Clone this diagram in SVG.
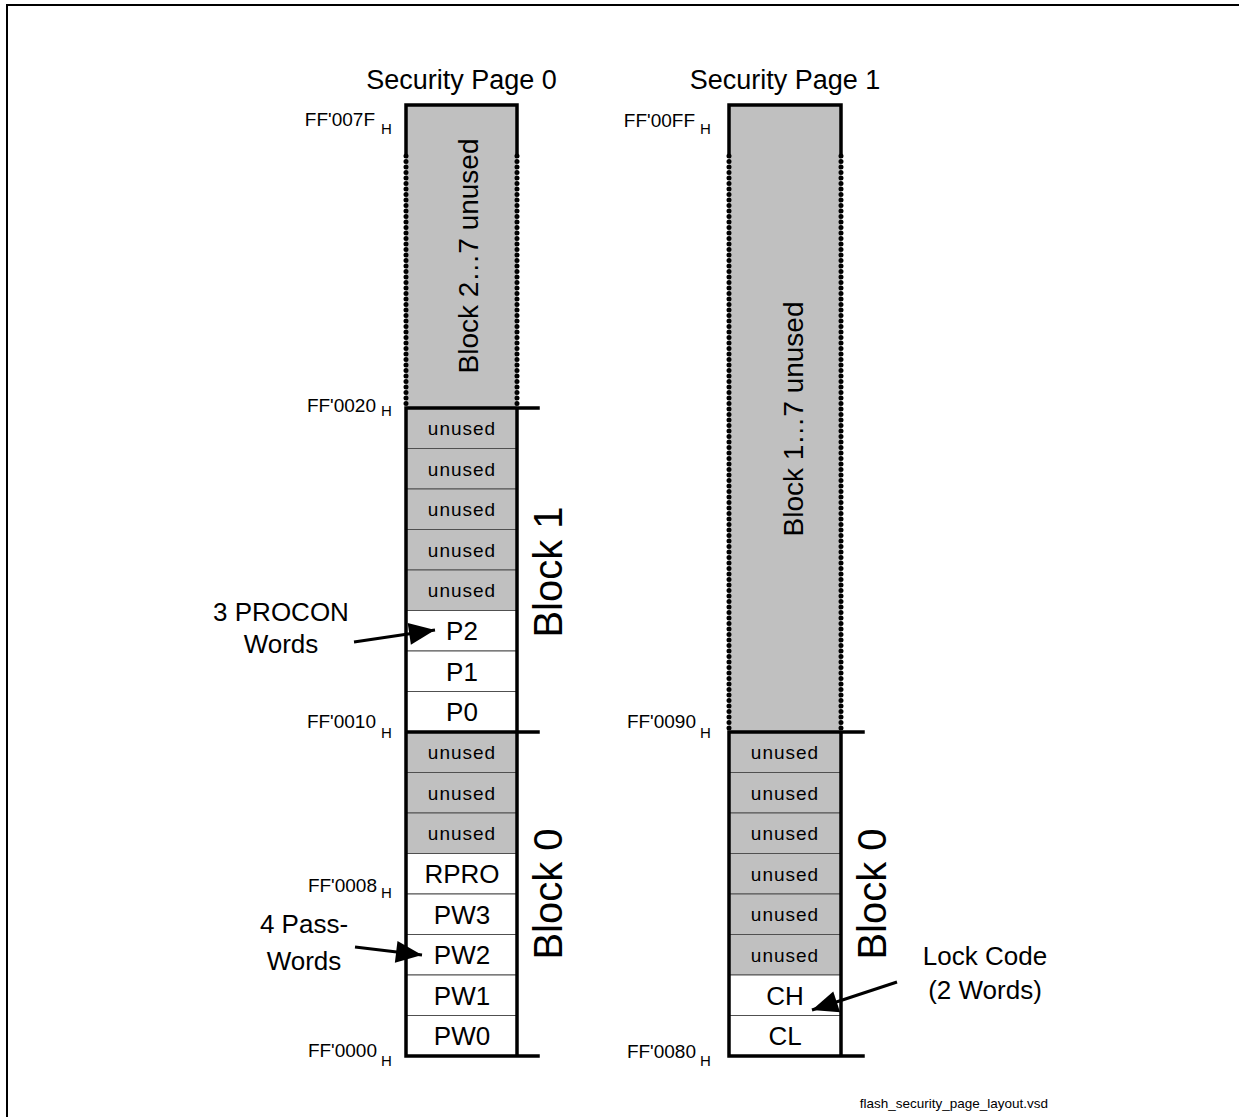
<svg xmlns="http://www.w3.org/2000/svg" width="1239" height="1117" viewBox="0 0 1239 1117">
<style>
.frame{fill:none;stroke:#000;stroke-width:2}
.bd{stroke:#000;stroke-width:3.5;fill:none;stroke-linecap:square}
.dot{stroke:#000;stroke-width:5;stroke-dasharray:0 5.5;stroke-linecap:round;fill:none}
.g{fill:#c0c0c0;stroke:#505050;stroke-width:1}
.w{fill:#fff;stroke:#505050;stroke-width:1}
.area{fill:#c0c0c0}
.t{font-family:"Liberation Sans",Arial,sans-serif;fill:#000}
.u{font-size:19px;text-anchor:middle;letter-spacing:1px}
.c{font-size:26px;text-anchor:middle}
.addr{font-size:19px;text-anchor:end}
.sub{font-size:15px}
.blk{font-size:40px;text-anchor:middle}
.big{font-size:28px;text-anchor:middle}
.title{font-size:27px;text-anchor:middle}
.call{font-size:26px;text-anchor:middle}
.arr{stroke:#000;stroke-width:3;fill:none}
</style>
<defs>
<marker id="ah" markerUnits="userSpaceOnUse" markerWidth="28" markerHeight="22" refX="26" refY="11" orient="auto" overflow="visible">
<path d="M0,0 L26,11 L0,22 z" fill="#000"/>
</marker>
</defs>
<rect class="frame" x="7" y="5" width="1260" height="1140"/>

<g id="title0"><text class="t title" x="461.5" y="89">Security Page 0</text></g>
<g id="title1"><text class="t title" x="785" y="89">Security Page 1</text></g>

<g id="page0">
<rect class="area" x="406" y="105" width="111" height="303"/>
<g id="p0-b1-r0"><rect class="g" x="406" y="408" width="111" height="40.5"/><text class="t u" x="462" y="435">unused</text></g>
<g id="p0-b1-r1"><rect class="g" x="406" y="448.5" width="111" height="40.5"/><text class="t u" x="462" y="475.5">unused</text></g>
<g id="p0-b1-r2"><rect class="g" x="406" y="489" width="111" height="40.5"/><text class="t u" x="462" y="516">unused</text></g>
<g id="p0-b1-r3"><rect class="g" x="406" y="529.5" width="111" height="40.5"/><text class="t u" x="462" y="556.5">unused</text></g>
<g id="p0-b1-r4"><rect class="g" x="406" y="570" width="111" height="40.5"/><text class="t u" x="462" y="597">unused</text></g>
<g id="p0-P2"><rect class="w" x="406" y="610.5" width="111" height="40.5"/><text class="t c" x="462" y="640">P2</text></g>
<g id="p0-P1"><rect class="w" x="406" y="651" width="111" height="40.5"/><text class="t c" x="462" y="680.5">P1</text></g>
<g id="p0-P0"><rect class="w" x="406" y="691.5" width="111" height="40.5"/><text class="t c" x="462" y="721">P0</text></g>
<g id="p0-b0-r0"><rect class="g" x="406" y="732" width="111" height="40.5"/><text class="t u" x="462" y="759">unused</text></g>
<g id="p0-b0-r1"><rect class="g" x="406" y="772.5" width="111" height="40.5"/><text class="t u" x="462" y="799.5">unused</text></g>
<g id="p0-b0-r2"><rect class="g" x="406" y="813" width="111" height="40.5"/><text class="t u" x="462" y="840">unused</text></g>
<g id="p0-RPRO"><rect class="w" x="406" y="853.5" width="111" height="40.5"/><text class="t c" x="462" y="883">RPRO</text></g>
<g id="p0-PW3"><rect class="w" x="406" y="894" width="111" height="40.5"/><text class="t c" x="462" y="923.5">PW3</text></g>
<g id="p0-PW2"><rect class="w" x="406" y="934.5" width="111" height="40.5"/><text class="t c" x="462" y="964">PW2</text></g>
<g id="p0-PW1"><rect class="w" x="406" y="975" width="111" height="40.5"/><text class="t c" x="462" y="1004.5">PW1</text></g>
<g id="p0-PW0"><rect class="w" x="406" y="1015.5" width="111" height="40.5"/><text class="t c" x="462" y="1045">PW0</text></g>
<path class="bd" d="M406,153 L406,105 L517,105 L517,153"/>
<path class="dot" d="M406,156 L406,406 M517,156 L517,406"/>
<path class="bd" d="M406,408 L406,1056 M517,408 L517,1056 M406,408 L538,408 M406,732 L538,732 M406,1056 L538,1056"/>
<text class="t big" transform="translate(478,256) rotate(-90)">Block 2…7 unused</text>
<text class="t blk" transform="translate(562,572) rotate(-90)">Block 1</text>
<text class="t blk" transform="translate(562,894) rotate(-90)">Block 0</text>
</g>

<g id="page1">
<rect class="area" x="729" y="105" width="112" height="627"/>
<g id="p1-r0"><rect class="g" x="729" y="732" width="112" height="40.5"/><text class="t u" x="785" y="759">unused</text></g>
<g id="p1-r1"><rect class="g" x="729" y="772.5" width="112" height="40.5"/><text class="t u" x="785" y="799.5">unused</text></g>
<g id="p1-r2"><rect class="g" x="729" y="813" width="112" height="40.5"/><text class="t u" x="785" y="840">unused</text></g>
<g id="p1-r3"><rect class="g" x="729" y="853.5" width="112" height="40.5"/><text class="t u" x="785" y="880.5">unused</text></g>
<g id="p1-r4"><rect class="g" x="729" y="894" width="112" height="40.5"/><text class="t u" x="785" y="921">unused</text></g>
<g id="p1-r5"><rect class="g" x="729" y="934.5" width="112" height="40.5"/><text class="t u" x="785" y="961.5">unused</text></g>
<g id="p1-CH"><rect class="w" x="729" y="975" width="112" height="40.5"/><text class="t c" x="785" y="1004.5">CH</text></g>
<g id="p1-CL"><rect class="w" x="729" y="1015.5" width="112" height="40.5"/><text class="t c" x="785" y="1045">CL</text></g>
<path class="bd" d="M729,153 L729,105 L841,105 L841,153"/>
<path class="dot" d="M729,156 L729,730 M841,156 L841,730"/>
<path class="bd" d="M729,732 L729,1056 M841,732 L841,1056 M729,732 L863,732 M729,1056 L863,1056"/>
<text class="t big" transform="translate(803,419) rotate(-90)">Block 1…7 unused</text>
<text class="t blk" transform="translate(886,894) rotate(-90)">Block 0</text>
</g>

<g id="addresses">
<text class="t addr" x="375" y="126">FF'007F</text><text class="t sub" x="381" y="134">H</text>
<text class="t addr" x="376" y="412">FF'0020</text><text class="t sub" x="381" y="416">H</text>
<text class="t addr" x="376" y="728">FF'0010</text><text class="t sub" x="381" y="738">H</text>
<text class="t addr" x="377" y="892">FF'0008</text><text class="t sub" x="381" y="898">H</text>
<text class="t addr" x="377" y="1057">FF'0000</text><text class="t sub" x="381" y="1066">H</text>
<text class="t addr" x="695" y="127">FF'00FF</text><text class="t sub" x="700" y="134">H</text>
<text class="t addr" x="696" y="728">FF'0090</text><text class="t sub" x="700" y="738">H</text>
<text class="t addr" x="696" y="1058">FF'0080</text><text class="t sub" x="700" y="1066">H</text>
</g>

<g id="callout-procon"><text class="t call" x="281" y="621">3 PROCON</text><text class="t call" x="281" y="653">Words</text></g>
<g id="callout-pw"><text class="t call" x="304" y="933">4 Pass-</text><text class="t call" x="304" y="970">Words</text></g>
<g id="callout-lock"><text class="t call" x="985" y="965">Lock Code</text><text class="t call" x="985" y="999">(2 Words)</text></g>

<g id="connectors">
<line class="arr" x1="354" y1="642" x2="435" y2="630" marker-end="url(#ah)"/>
<line class="arr" x1="355" y1="947" x2="422" y2="955" marker-end="url(#ah)"/>
<line class="arr" x1="897" y1="982" x2="812" y2="1010" marker-end="url(#ah)"/>
</g>

<g id="filename"><text class="t" x="1048" y="1108" font-size="13.5" text-anchor="end">flash_security_page_layout.vsd</text></g>
</svg>
